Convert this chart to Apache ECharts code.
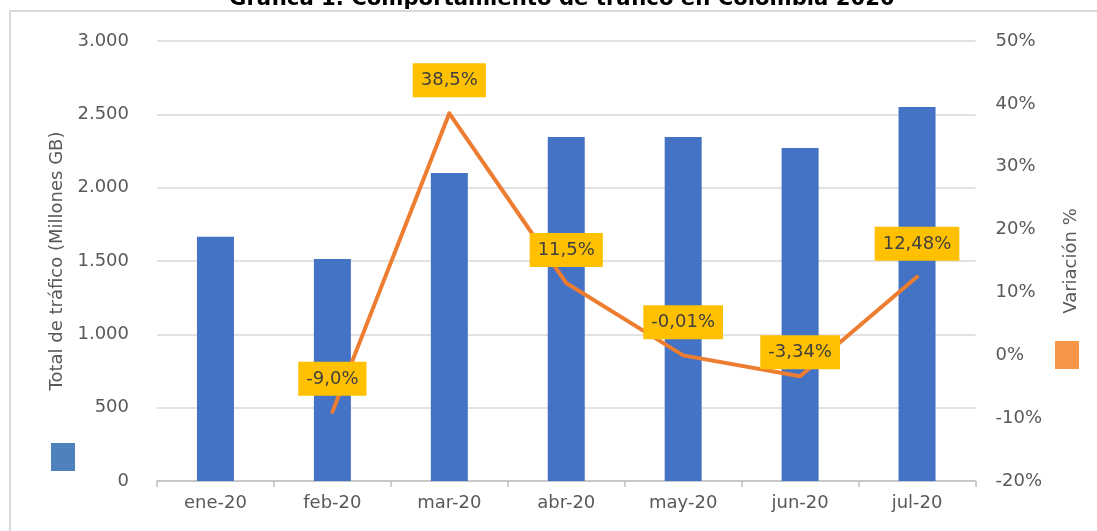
<!DOCTYPE html>
<html>
<head>
<meta charset="utf-8">
<title>Gráfica 1</title>
<script src="https://cdn.jsdelivr.net/npm/echarts@6/dist/echarts.min.js"></script>
<style>
  html, body { margin: 0; padding: 0; background: #fff; }
  #chart { width: 1097px; height: 531px; }
</style>
</head>
<body>
<div id="chart"></div>
<script>
// meses
var meses = ['ene-20', 'feb-20', 'mar-20', 'abr-20', 'may-20', 'jun-20', 'jul-20'];
// total de tráfico (millones GB)
var trafico = [1665, 1514, 2100, 2345, 2345, 2270, 2550];
// variación % (ene sin dato)
var variacion = [null, -9.0, 38.5, 11.5, -0.01, -3.34, 12.48];
var etiquetasVar = ['', '-9,0%', '38,5%', '11,5%', '-0,01%', '-3,34%', '12,48%'];

var fuente = 'DejaVu Sans';
var gris = '#595959';

function miles(v) {
    return String(v).replace(/\B(?=(\d{3})+(?!\d))/g, '.');
}

// la etiqueta de jun-20 va más pegada a la línea
var datosVar = variacion.map(function (v, i) {
    if (i === 5) return { value: v, label: { distance: 6 } };
    return v;
});

var myChart = echarts.init(document.getElementById('chart'));
myChart.setOption({
    animation: false,
    title: {
        text: 'Gráfica 1. Comportamiento de tráfico en Colombia 2020',
        left: 224,
        top: -16,
        textStyle: { fontFamily: fuente, fontSize: 21.2, fontWeight: 'bold', color: '#000' }
    },
    graphic: [
        {
            type: 'rect',
            z: -1,
            shape: { x: 10, y: 11, width: 1200, height: 600 },
            style: { fill: 'none', stroke: '#D9D9D9', lineWidth: 2 }
        }
    ],
    legend: [
        {
            left: 51, top: 443, padding: 0,
            itemWidth: 24, itemHeight: 28,
            formatter: function () { return ''; },
            selectedMode: false,
            data: [{ name: 'Tráfico', icon: 'rect', itemStyle: { color: '#4F81BD' } }]
        },
        {
            left: 1055, top: 341, padding: 0,
            itemWidth: 24, itemHeight: 28,
            formatter: function () { return ''; },
            selectedMode: false,
            data: [{ name: 'Variación', icon: 'rect', itemStyle: { color: '#F79646', opacity: 1 } }]
        }
    ],
    grid: { left: 157, right: 121.5, top: 41, bottom: 50 },
    xAxis: {
        type: 'category',
        data: meses,
        axisLine: { lineStyle: { color: '#BFBFBF', width: 1.5 } },
        axisTick: { show: true, length: 6, lineStyle: { color: '#BFBFBF', width: 1.5 } },
        axisLabel: { fontFamily: fuente, fontSize: 18, color: gris, margin: 13 }
    },
    yAxis: [
        {
            type: 'value',
            min: 0, max: 3000, interval: 500,
            name: 'Total de tráfico (Millones GB)',
            nameLocation: 'middle',
            nameRotate: 90,
            nameGap: 90,
            nameTextStyle: { fontFamily: fuente, fontSize: 18, color: gris },
            axisLine: { show: false },
            axisTick: { show: false },
            axisLabel: { fontFamily: fuente, fontSize: 18, color: gris, margin: 28, formatter: miles },
            splitLine: { lineStyle: { color: '#D9D9D9', width: 1.5 } }
        },
        {
            type: 'value',
            min: -20, max: 50, interval: 10,
            name: 'Variación %',
            nameLocation: 'middle',
            nameRotate: 90,
            nameGap: 87,
            nameTextStyle: { fontFamily: fuente, fontSize: 18, color: gris },
            axisLine: { show: false },
            axisTick: { show: false },
            axisLabel: { fontFamily: fuente, fontSize: 18, color: gris, margin: 20, formatter: '{value}%' },
            splitLine: { show: false }
        }
    ],
    series: [
        {
            name: 'Tráfico',
            type: 'bar',
            data: trafico,
            barWidth: 37,
            itemStyle: { color: '#4472C4' }
        },
        {
            name: 'Variación',
            type: 'line',
            yAxisIndex: 1,
            data: datosVar,
            showSymbol: true,
            showAllSymbol: true,
            symbol: 'circle',
            symbolSize: 2,
            connectNulls: false,
            lineStyle: { color: '#ED7D31', width: 4, cap: 'round', join: 'round' },
            itemStyle: { color: '#ED7D31' },
            label: {
                show: true,
                position: 'top',
                distance: 15,
                formatter: function (p) { return etiquetasVar[p.dataIndex]; },
                fontFamily: fuente,
                fontSize: 18,
                lineHeight: 20,
                color: '#404040',
                backgroundColor: '#FFC000',
                padding: [7, 8]
            }
        }
    ]
});
</script>
</body>
</html>
